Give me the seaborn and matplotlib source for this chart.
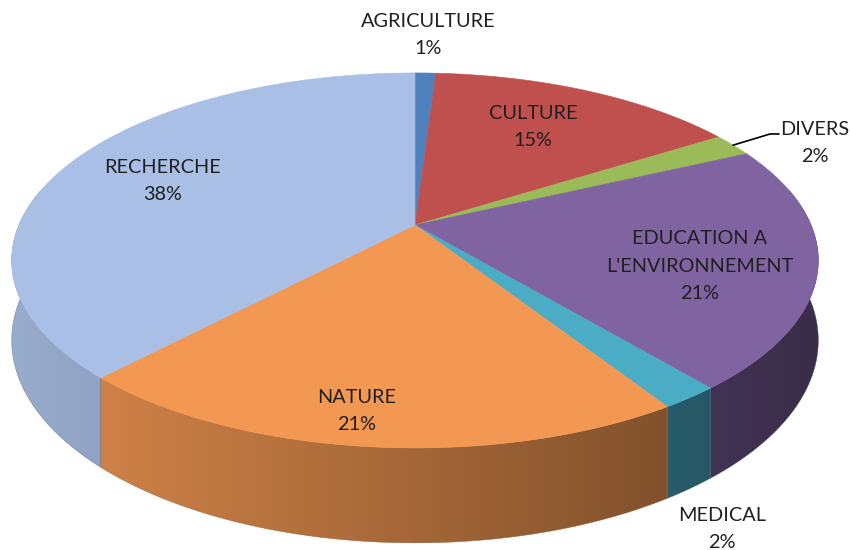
import numpy as np
import matplotlib
matplotlib.use("Agg")
import matplotlib.pyplot as plt
from matplotlib.patches import Polygon
import seaborn as sns

# ---- data ----
categories = ["AGRICULTURE", "CULTURE", "DIVERS", "EDUCATION A\nL'ENVIRONNEMENT",
              "MEDICAL", "NATURE", "RECHERCHE"]
shares = [1, 15, 2, 21, 2, 21, 38]
pct_labels = ["1%", "15%", "2%", "21%", "2%", "21%", "38%"]
colors_hex = ["#4F81BD", "#C0504D", "#9BBB59", "#8064A2", "#4BACC6", "#F39853", "#A9BFE5"]

sns.set_theme(style="white")
plt.rcParams['font.family'] = ['Lato', 'DejaVu Sans']
palette = sns.color_palette(colors_hex)

# ---- perspective geometry of the 3D pie ----
cx, cy = 415, 225      # projected pie centre
a, b = 396, 180.8      # disc radii in screen units
k = 0.189              # perspective strength
H = 77                 # wall height

def proj(theta, z=0.0):
    u, v = np.cos(theta), np.sin(theta)
    d = 1 + k * v
    return cx + a * u / d, cy + (-b * v + H * z) / d

fig = plt.figure(figsize=(8.5, 5.5), dpi=100)
ax = fig.add_axes([0, 0, 1, 1])
ax.set_xlim(0, 850)
ax.set_ylim(550, 0)
ax.axis("off")

fracs = np.array(shares, dtype=float) / np.sum(shares)
cum = np.concatenate([[0], np.cumsum(fracs)])
starts = np.deg2rad(90 - 360 * cum[:-1])
ends = np.deg2rad(90 - 360 * cum[1:])

# shading factor along x for the side walls
xgrid = np.linspace(0, 850, 851)
shade = 0.9 - 0.45 * np.clip((xgrid - 12) / 805, 0, 1)

# walls: one polygon per slice, filled with a horizontal gradient
for i in range(len(shares)):
    th = np.linspace(starts[i], ends[i], 300)
    front = np.sin(th) < 0.2
    if front.sum() < 2:
        continue
    th = th[front]
    xt, yt = proj(th)
    xb, yb = proj(th[::-1], 1)
    verts = np.column_stack([np.concatenate([xt, xb]), np.concatenate([yt, yb])])
    poly = Polygon(verts, closed=True, fc="none", ec="none")
    ax.add_patch(poly)
    base = np.array(palette[i])
    img = np.clip(shade[None, :, None] * base[None, None, :], 0, 1)
    im = ax.imshow(img, extent=(0, 850, 550, 0), aspect="auto",
                   interpolation="bilinear", zorder=1)
    im.set_clip_path(poly)
    ax.fill(verts[:, 0], verts[:, 1], fc="none", ec=tuple(base * 0.6), lw=0.3, zorder=1.1)

# top faces
for i in range(len(shares)):
    th = np.linspace(starts[i], ends[i], 200)
    xs, ys = proj(th)
    ax.fill(np.concatenate([[cx], xs]), np.concatenate([[cy], ys]),
            color=palette[i], lw=0.4, ec=palette[i], zorder=2)

ax.set_xlim(0, 850)
ax.set_ylim(550, 0)

# labels
txt = "#1f1f1f"
label_pos = [(428, 35), (533, 127), (815, 143), (700, 266), (722, 529), (357, 411), (163, 181)]
for i, (lx, ly) in enumerate(label_pos):
    ax.text(lx, ly, categories[i] + "\n" + pct_labels[i], ha="center", va="center",
            fontsize=14.3, color=txt, linespacing=1.75, zorder=3)

# leader line for DIVERS
mid = (starts[2] + ends[2]) / 2
sx, sy = proj(mid)
ax.plot([sx, 770, 779], [sy, 134, 134], color="black", lw=1.2, zorder=3)

fig.savefig("out.png", dpi=100)
